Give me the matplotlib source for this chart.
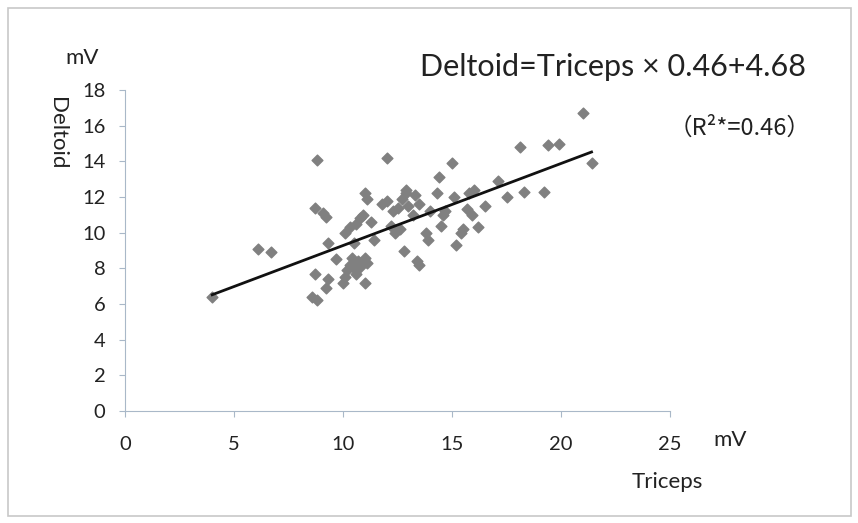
import matplotlib
matplotlib.use("Agg")
import matplotlib.pyplot as plt
from matplotlib.patches import Rectangle

plt.rcParams['font.family'] = ['Lato', 'Noto Sans CJK JP', 'DejaVu Sans']

# values (mV)
triceps = [4.0, 6.1, 6.7, 8.8, 8.7, 9.1, 9.2, 9.3, 8.7, 8.6, 8.8, 9.3, 9.2, 9.7,
           10.0, 10.1, 10.2, 10.3, 10.5, 10.4, 10.7, 10.8, 10.6,
           10.1, 10.3, 10.6, 10.8, 10.5,
           11.0, 11.1, 10.9, 11.3, 11.0, 11.1, 11.0, 11.4,
           12.0, 11.8, 12.0, 12.3, 12.5, 12.2, 12.4, 12.6, 12.7, 12.9, 13.0,
           13.2, 12.8, 13.4, 13.5, 12.9,
           13.3, 13.5, 13.8, 13.9, 14.0, 14.3, 14.4, 14.6, 14.5, 15.0, 15.1, 14.7,
           15.2, 15.4, 15.5, 15.8, 16.0, 15.7, 15.9, 16.2, 16.5, 17.1, 17.5,
           18.1, 18.3, 19.2, 19.4, 19.9, 21.0, 21.4]
deltoid = [6.4, 9.1, 8.9, 14.1, 11.4, 11.1, 10.9, 9.4, 7.7, 6.4, 6.2, 7.4, 6.9, 8.5,
           7.2, 7.5, 7.9, 8.2, 8.0, 8.6, 8.4, 8.1, 7.7,
           10.0, 10.3, 10.5, 10.8, 9.4,
           12.2, 11.9, 11.0, 10.6, 8.6, 8.3, 7.2, 9.6,
           14.2, 11.6, 11.8, 11.2, 11.4, 10.4, 10.0, 10.2, 11.9, 12.2, 11.5,
           11.0, 9.0, 8.4, 8.2, 12.4,
           12.1, 11.6, 10.0, 9.6, 11.2, 12.2, 13.1, 11.0, 10.4, 13.9, 12.0, 11.2,
           9.3, 10.0, 10.2, 12.2, 12.4, 11.3, 11.0, 10.3, 11.5, 12.9, 12.0,
           14.8, 12.3, 12.3, 14.9, 15.0, 16.7, 13.9]
slope = 0.46
intercept = 4.68
fit_x = [4.0, 21.4]
x_ticks = [0, 5, 10, 15, 20, 25]
y_ticks = [0, 2, 4, 6, 8, 10, 12, 14, 16, 18]

fig = plt.figure(figsize=(8.58, 5.23), dpi=100)
fig.patches.append(Rectangle((0.009, 0.013), 0.983, 0.972, transform=fig.transFigure,
                             fill=False, edgecolor='#c8c8c8', linewidth=1.2))
ax = fig.add_axes([0.1457, 0.2141, 0.6352, 0.6138])

ax.scatter(triceps, deltoid, marker='D', s=30, color='#808080', zorder=3)
ax.plot(fit_x, [slope * v + intercept for v in fit_x], color='#111111', lw=2, zorder=4)

ax.set_xlim(0, 25)
ax.set_ylim(0, 18)
ax.set_xticks(x_ticks)
ax.set_yticks(y_ticks)
for s in ['top', 'right']:
    ax.spines[s].set_visible(False)
for s in ['left', 'bottom']:
    ax.spines[s].set_color('#a9b8c8')
ax.tick_params(axis='both', colors='#a9b8c8', labelcolor='#222222', labelsize=14.5,
               direction='out', length=4)
ax.tick_params(axis='x', pad=14)
ax.tick_params(axis='y', pad=10)

fig.text(0.096, 0.889, 'mV', fontsize=16, color='#222222', ha='center', va='center')
fig.text(0.066, 0.745, 'Deltoid', fontsize=16, color='#222222', rotation=-90,
         ha='center', va='center')
fig.text(0.851, 0.158, 'mV', fontsize=16, color='#222222', ha='center', va='center')
fig.text(0.778, 0.078, 'Triceps', fontsize=16, color='#222222', ha='center', va='center')
fig.text(0.714, 0.872, 'Deltoid=Triceps × 0.46+4.68', fontsize=22, color='#222222',
         ha='center', va='center')
fig.text(0.945, 0.755, '（R²*=0.46）', fontsize=17, color='#222222',
         family=['Noto Sans CJK JP', 'DejaVu Sans'], ha='right', va='center')

fig.savefig('out.png', dpi=100)
